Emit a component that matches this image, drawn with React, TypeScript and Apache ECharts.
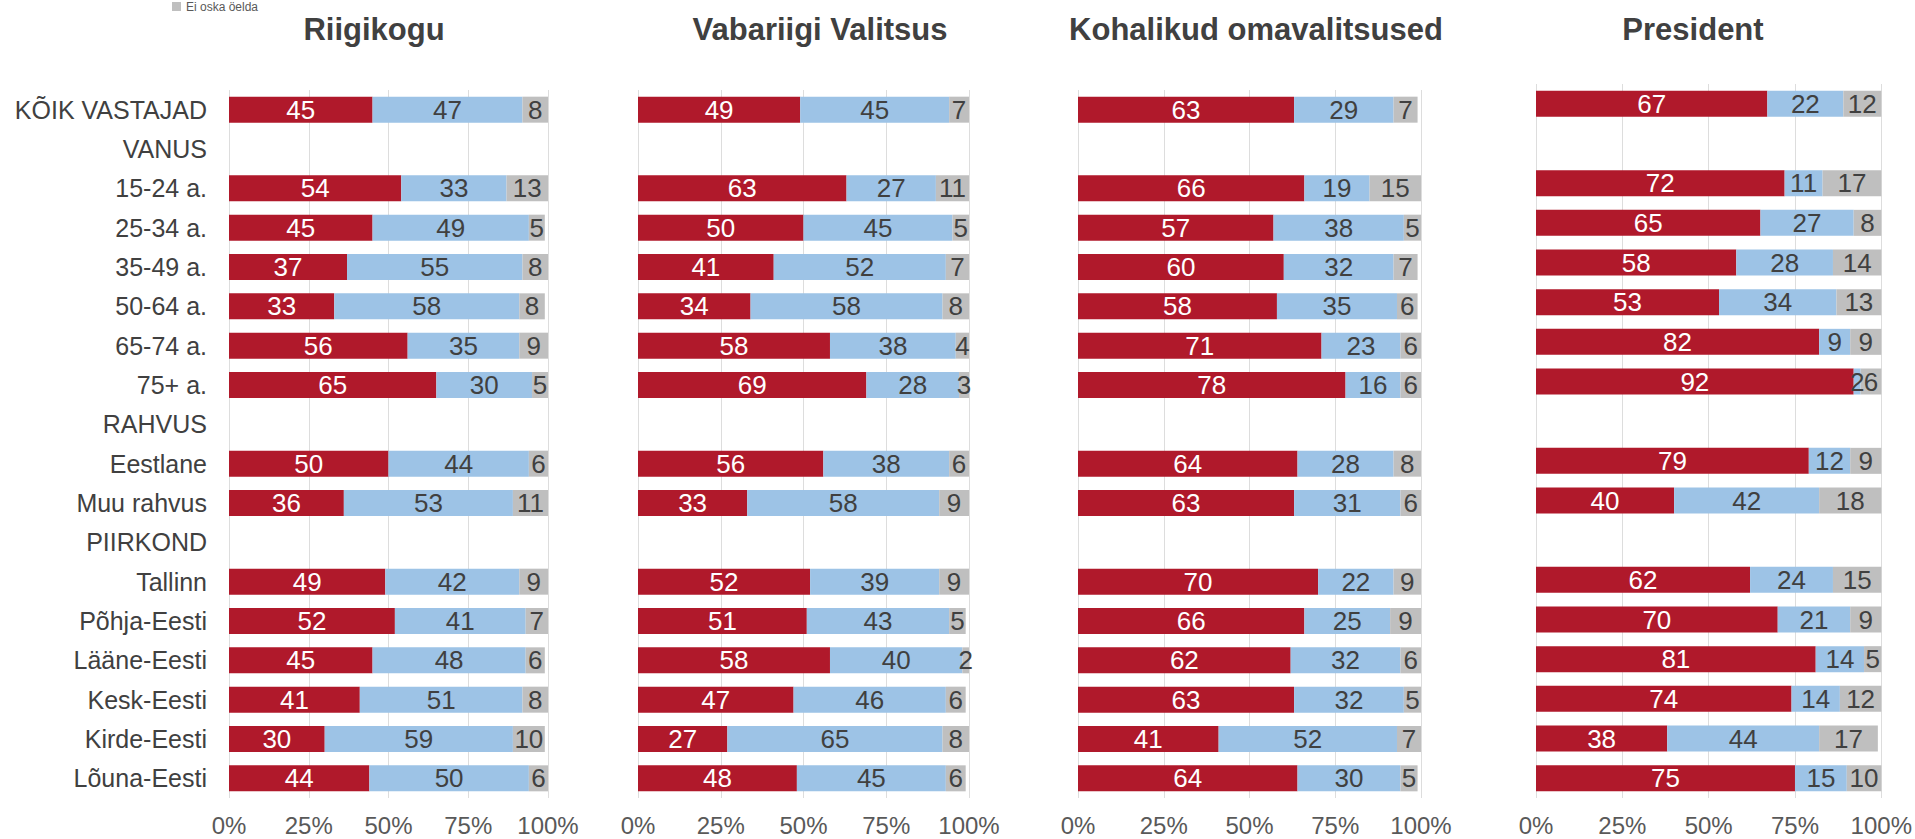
import React, { useEffect, useRef } from 'react';
import * as echarts from 'echarts';

const categories = [
  'KÕIK VASTAJAD', 'VANUS', '15-24 a.', '25-34 a.', '35-49 a.', '50-64 a.', '65-74 a.', '75+ a.',
  'RAHVUS', 'Eestlane', 'Muu rahvus', 'PIIRKOND', 'Tallinn', 'Põhja-Eesti', 'Lääne-Eesti',
  'Kesk-Eesti', 'Kirde-Eesti', 'Lõuna-Eesti',
];
const panelTitles = ['Riigikogu', 'Vabariigi Valitsus', 'Kohalikud omavalitsused', 'President'];
const seriesNames = ['Usaldab', 'Ei usalda', 'Ei oska öelda'];
const xTicks = [0, 25, 50, 75, 100];

const riigikoguTrust = [45, null, 54, 45, 37, 33, 56, 65, null, 50, 36, null, 49, 52, 45, 41, 30, 44];
const riigikoguDistrust = [47, null, 33, 49, 55, 58, 35, 30, null, 44, 53, null, 42, 41, 48, 51, 59, 50];
const riigikoguDontKnow = [8, null, 13, 5, 8, 8, 9, 5, null, 6, 11, null, 9, 7, 6, 8, 10, 6];

const valitsusTrust = [49, null, 63, 50, 41, 34, 58, 69, null, 56, 33, null, 52, 51, 58, 47, 27, 48];
const valitsusDistrust = [45, null, 27, 45, 52, 58, 38, 28, null, 38, 58, null, 39, 43, 40, 46, 65, 45];
const valitsusDontKnow = [7, null, 11, 5, 7, 8, 4, 3, null, 6, 9, null, 9, 5, 2, 6, 8, 6];

const kovTrust = [63, null, 66, 57, 60, 58, 71, 78, null, 64, 63, null, 70, 66, 62, 63, 41, 64];
const kovDistrust = [29, null, 19, 38, 32, 35, 23, 16, null, 28, 31, null, 22, 25, 32, 32, 52, 30];
const kovDontKnow = [7, null, 15, 5, 7, 6, 6, 6, null, 8, 6, null, 9, 9, 6, 5, 7, 5];

const presidentTrust = [67, null, 72, 65, 58, 53, 82, 92, null, 79, 40, null, 62, 70, 81, 74, 38, 75];
const presidentDistrust = [22, null, 11, 27, 28, 34, 9, 2, null, 12, 42, null, 24, 21, 14, 14, 44, 15];
const presidentDontKnow = [12, null, 17, 8, 14, 13, 9, 6, null, 9, 18, null, 15, 9, 5, 12, 17, 10];

const panels = [
  [riigikoguTrust, riigikoguDistrust, riigikoguDontKnow],
  [valitsusTrust, valitsusDistrust, valitsusDontKnow],
  [kovTrust, kovDistrust, kovDontKnow],
  [presidentTrust, presidentDistrust, presidentDontKnow],
];

const FONT = '"Liberation Sans", Arial, sans-serif';
const colors = ['#B0192B', '#9DC3E6', '#BFBFBF'];
const labelColors = ['#FFFFFF', '#404040', '#404040'];

const grids = [
  { left: 229, top: 90, width: 319, height: 708 },
  { left: 638, top: 90, width: 331, height: 708 },
  { left: 1078, top: 90, width: 343, height: 708 },
  { left: 1536, top: 84, width: 346, height: 714 },
];
const titleX = [374, 820, 1256, 1693];

export default function App() {
  const ref = useRef<HTMLDivElement>(null);
  useEffect(() => {
    if (!ref.current) return;
    const chart = echarts.init(ref.current, null, { renderer: 'svg' });
    const series: any[] = [];
    panels.forEach((panel, pi) => {
      panel.forEach((vals, si) => {
        series.push({
          type: 'bar',
          name: seriesNames[si],
          xAxisIndex: pi,
          yAxisIndex: pi,
          stack: 'p' + pi,
          barWidth: 26,
          data: vals,
          itemStyle: { color: colors[si] },
          label: {
            show: true,
            position: 'inside',
            color: labelColors[si],
            fontSize: 26,
            fontFamily: FONT,
            textBorderWidth: 0,
            formatter: (p: any) => (p.value == null ? '' : String(p.value)),
          },
        });
      });
    });
    const option: any = {
      animation: false,
      backgroundColor: '#FFFFFF',
      textStyle: { fontFamily: FONT },
      grid: grids.map((g) => ({ ...g, containLabel: false })),
      xAxis: grids.map((_, i) => ({
        type: 'value',
        gridIndex: i,
        min: xTicks[0],
        max: xTicks[xTicks.length - 1],
        interval: 25,
        axisLine: { show: false },
        axisTick: { show: false },
        axisLabel: { formatter: '{value}%', fontSize: 24, color: '#595959', margin: 15, fontFamily: FONT },
        splitLine: { show: true, lineStyle: { color: '#DDDDDD', width: 1 } },
      })),
      yAxis: grids.map((_, i) => ({
        type: 'category',
        gridIndex: i,
        data: categories,
        inverse: true,
        axisLine: { show: false },
        axisTick: { show: false },
        axisLabel: { show: i === 0, fontSize: 25, color: '#404040', margin: 22, fontFamily: FONT },
        splitLine: { show: false },
      })),
      graphic: [
        ...panelTitles.map((t, i) => ({
          type: 'text',
          x: titleX[i],
          y: 29,
          style: {
            text: t,
            fontSize: 31,
            fontWeight: 'bold',
            fontFamily: FONT,
            fill: '#404040',
            align: 'center',
            verticalAlign: 'middle',
          },
        })),
        {
          type: 'rect',
          shape: { x: 172, y: 2, width: 9, height: 9 },
          style: { fill: colors[2] },
        },
        {
          type: 'text',
          x: 186,
          y: 1,
          style: {
            text: seriesNames[2],
            fontSize: 12,
            fontFamily: FONT,
            fill: '#595959',
            align: 'left',
            verticalAlign: 'top',
          },
        },
      ],
      series,
    };
    chart.setOption(option);
    return () => chart.dispose();
  }, []);
  return (
    <div
      ref={ref}
      style={{ position: 'fixed', left: 0, top: 0, width: 1915, height: 839, background: '#fff' }}
    />
  );
}
